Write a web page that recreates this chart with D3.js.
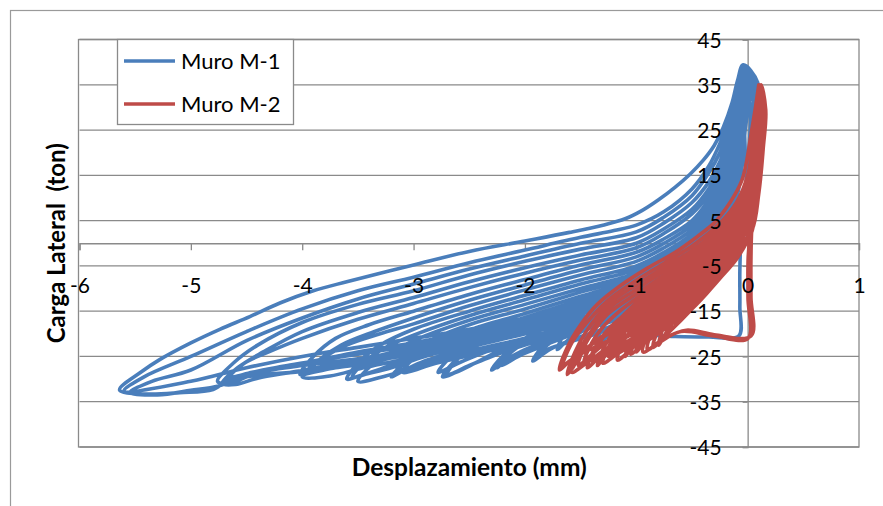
<!DOCTYPE html>
<html>
<head>
<meta charset="utf-8">
<script src="https://cdn.jsdelivr.net/npm/d3@7"></script>
<style>
  html, body { margin: 0; padding: 0; background: #fff; }
  svg { display: block; }
</style>
</head>
<body>
<svg id="chart" width="883" height="506"></svg>
<script>
// Hysteresis loops: lateral displacement (mm) vs lateral load (ton)
const xTicks = [-6, -5, -4, -3, -2, -1, 0, 1];
const yTicks = [-45, -35, -25, -15, -5, 5, 15, 25, 35, 45];
const seriesNames = ["Muro M-1", "Muro M-2"];
const seriesColors = ["#4A7EBB", "#BE4B48"];

// Muro M-1: [displacement, load], cycle after cycle
const muroM1 = [
  [0,0],[-0.01,12],[-0.03,26],[-0.04,35],
  [0.02,31],[0.01,20],[-0.03,8],[-0.06,1],[-0.07,-6],[-0.07,-14],[-0.08,-20.5],[-0.35,-20.7],[-0.65,-20.6],[-0.85,-20.4],[-0.97,-21.2],
  [-0.9,-15],[-0.78,-9.5],[-0.6,-4.8],[-0.4,-1.2],[-0.22,2.5],[-0.11,8.5],[-0.05,19],[-0.02,30],[0.0,35.5],
  [0.05,33],[0.04,24],[0.01,14],[-0.03,5],[-0.1,-1.5],[-0.35,-6],[-0.7,-11],[-1.0,-15.5],[-1.2,-19.5],[-1.35,-22],
  [-1.27,-17],[-1.1,-12],[-0.85,-7.5],[-0.55,-3.5],[-0.3,0.5],[-0.15,5.5],[-0.07,14],[-0.02,26],[0.01,35],
  [0.05,32],[0.03,22],[0.0,12],[-0.04,4],[-0.12,-1.5],[-0.4,-6.5],[-0.8,-11.5],[-1.15,-15.5],[-1.45,-19],[-1.62,-21.5],[-1.71,-23.5],
  [-1.62,-19],[-1.42,-14.5],[-1.15,-10.5],[-0.8,-6.5],[-0.5,-2.5],[-0.28,1.5],[-0.14,6.5],[-0.06,15],[-0.02,26],[0.01,36],
  [0.06,33],[0.04,23],[0.01,12],[-0.04,3],[-0.1,-1.5],[-0.25,-4.5],[-0.5,-9],[-1.0,-16],[-1.3,-19],[-1.6,-21.5],[-1.78,-23.5],[-1.93,-26],
  [-1.83,-22.5],[-1.65,-19.5],[-1.4,-16.5],[-1.0,-13.5],[-0.75,-10.5],[-0.5,-7.6],[-0.35,-4],[-0.25,-0.6],[-0.15,6],[-0.1,12],[-0.05,21],[0.04,33.5],
  [0.06,33],[0.04,24],[0.0,13],[-0.05,3],[-0.1,-2],[-0.25,-5],[-0.5,-9.5],[-1.0,-16.5],[-1.3,-19.5],[-1.62,-22],[-1.8,-23.5],[-1.9,-25.5],
  [-1.8,-22.5],[-1.6,-19.8],[-1.35,-17.2],[-1.0,-14.2],[-0.75,-11.2],[-0.5,-8.3],[-0.35,-4.8],[-0.25,-1.4],[-0.15,5],[-0.1,11],[-0.05,20],[0.04,33],
  [0.07,33.5],[0.05,24],[0.01,13],[-0.04,3],[-0.1,-1.5],[-0.25,-4.5],[-0.5,-9],[-1.0,-15],[-1.4,-18],[-1.8,-21.5],[-2.0,-23.5],[-2.15,-25.5],[-2.25,-27.5],
  [-2.15,-24],[-2.0,-21],[-1.75,-18],[-1.5,-15.6],[-1.0,-11.5],[-0.75,-8.5],[-0.5,-5.6],[-0.35,-1.6],[-0.25,1.8],[-0.15,9],[-0.1,15],[-0.05,24],[0.03,34.5],
  [0.07,33],[0.05,23],[0.01,12],[-0.05,3],[-0.1,-2],[-0.25,-5],[-0.5,-9.5],[-1.0,-15.5],[-1.45,-19],[-1.82,-22.5],[-2.02,-24.5],[-2.22,-27],
  [-2.12,-24],[-1.97,-21.5],[-1.75,-19],[-1.5,-16.5],[-1.0,-12.2],[-0.75,-9.2],[-0.5,-6.3],[-0.35,-2.4],[-0.25,1],[-0.15,8],[-0.1,14],[-0.05,23],[0.04,34.5],
  [0.07,34],[0.05,24],[0.01,13],[-0.04,3],[-0.1,-1.5],[-0.25,-4],[-0.5,-8.5],[-1.0,-14.5],[-1.5,-19],[-1.9,-22.5],[-2.12,-25],[-2.3,-28],
  [-2.2,-25],[-2.05,-22.5],[-1.8,-20],[-1.5,-17.3],[-1.0,-12.9],[-0.75,-9.9],[-0.5,-7],[-0.35,-3.2],[-0.25,0.2],[-0.15,7],[-0.1,13],[-0.05,22],[0.04,34],
  [0.07,34],[0.05,24],[0.01,13],[-0.04,3],[-0.1,-1.5],[-0.25,-4.5],[-0.5,-8.5],[-1.0,-14],[-1.5,-18],[-1.95,-21.5],[-2.25,-24],[-2.45,-26.5],[-2.62,-28.5],[-2.74,-29.5],
  [-2.63,-26],[-2.45,-22.5],[-2.2,-19.5],[-2.0,-17.3],[-1.5,-13.3],[-1.0,-9.4],[-0.75,-6.4],[-0.5,-3.5],[-0.35,0.8],[-0.25,4.2],[-0.15,12],[-0.1,18],[-0.05,26.5],[0.02,35.5],
  [0.07,34],[0.05,24],[0.01,13],[-0.05,3],[-0.1,-2],[-0.25,-5],[-0.5,-9],[-1.0,-15],[-1.5,-19],[-2.0,-22.5],[-2.3,-25],[-2.5,-27],[-2.7,-29],
  [-2.6,-25.5],[-2.42,-22.5],[-2.2,-20.3],[-2.0,-18.2],[-1.5,-14],[-1.0,-10.1],[-0.75,-7.1],[-0.5,-4.2],[-0.35,0],[-0.25,3.4],[-0.15,11],[-0.1,17],[-0.05,25.5],[0.03,35],
  [0.08,34.5],[0.05,24],[0.01,13],[-0.04,3],[-0.1,-1.5],[-0.25,-4],[-0.5,-8],[-1.0,-13.5],[-1.5,-17.5],[-2.0,-21],[-2.35,-24],[-2.6,-26.5],[-2.78,-28.5],
  [-2.68,-25.5],[-2.5,-23],[-2.25,-21],[-2.0,-19],[-1.5,-14.8],[-1.0,-10.8],[-0.75,-7.8],[-0.5,-4.9],[-0.35,-0.8],[-0.25,2.6],[-0.15,10],[-0.1,16],[-0.05,25],[0.03,35],
  [0.08,34.5],[0.05,24],[0.01,13],[-0.04,3],[-0.1,-1.5],[-0.25,-4.5],[-0.5,-8.5],[-1.0,-14],[-1.5,-17.5],[-2.0,-21],[-2.4,-23.5],[-2.75,-26],[-3.0,-27.2],[-3.15,-28],
  [-3.05,-25],[-2.85,-21.5],[-2.5,-18],[-2.0,-14.5],[-1.5,-10.8],[-1.0,-7.3],[-0.75,-4.3],[-0.5,-1],[-0.35,3.5],[-0.25,7],[-0.15,15],[-0.1,21],[-0.05,29],[0.01,36.5],
  [0.08,34],[0.05,24],[0.01,13],[-0.05,3],[-0.1,-2],[-0.25,-5],[-0.5,-9],[-1.0,-15],[-1.5,-18.5],[-2.0,-22],[-2.45,-24.5],[-2.8,-26.5],[-3.1,-28.5],
  [-3.0,-25.5],[-2.8,-22.5],[-2.5,-19.2],[-2.0,-15.5],[-1.5,-11.7],[-1.0,-8],[-0.75,-5],[-0.5,-2],[-0.35,2.5],[-0.25,6],[-0.15,14],[-0.1,20],[-0.05,28],[0.02,36],
  [0.08,35],[0.06,25],[0.02,14],[-0.04,3],[-0.1,-1.5],[-0.25,-4],[-0.5,-8],[-1.0,-13],[-1.5,-16.5],[-2.0,-20],[-2.5,-23],[-2.9,-26],[-3.08,-28],[-3.2,-29.5],
  [-3.08,-26.5],[-2.9,-23.5],[-2.5,-20.3],[-2.0,-16.4],[-1.5,-12.5],[-1.0,-8.7],[-0.75,-5.7],[-0.5,-2.8],[-0.35,1.6],[-0.25,5],[-0.15,13],[-0.1,19],[-0.05,27],[0.02,36],
  [0.08,34.5],[0.05,24],[0.01,13],[-0.04,3],[-0.1,-1.5],[-0.25,-4.5],[-0.5,-8.5],[-1.0,-13],[-1.5,-16.5],[-2.0,-19.5],[-2.5,-22.5],[-2.9,-25],[-3.2,-27.5],[-3.45,-29],[-3.6,-30],
  [-3.48,-26],[-3.3,-22.5],[-3.0,-19],[-2.5,-15],[-2.0,-11.5],[-1.5,-8.1],[-1.0,-5],[-0.75,-2],[-0.5,2],[-0.35,6.2],[-0.25,10],[-0.15,18],[-0.1,24],[-0.05,31.5],[0.0,37.5],
  [0.08,34],[0.05,24],[0.01,13],[-0.05,3],[-0.1,-2],[-0.25,-5],[-0.5,-9],[-1.0,-12],[-1.5,-15.5],[-2.0,-18.8],[-2.5,-21.8],[-2.95,-24.5],[-3.3,-27.8],[-3.55,-29.5],
  [-3.43,-26],[-3.25,-23],[-3.0,-20.3],[-2.5,-16],[-2.0,-12.5],[-1.5,-9],[-1.0,-5.8],[-0.75,-2.8],[-0.5,1],[-0.35,5.3],[-0.25,9],[-0.15,17],[-0.1,23],[-0.05,31],[0.01,37.5],
  [0.08,35],[0.06,25],[0.02,14],[-0.04,3],[-0.1,-1.5],[-0.25,-4],[-0.5,-8],[-1.0,-14.5],[-1.5,-18],[-2.0,-21],[-2.5,-23.8],[-2.9,-26.5],[-3.25,-29.3],[-3.5,-30.5],
  [-3.38,-27],[-3.2,-24],[-3.0,-21.5],[-2.5,-17],[-2.0,-13.5],[-1.5,-10],[-1.0,-6.6],[-0.75,-3.6],[-0.5,0],[-0.35,4.4],[-0.25,8],[-0.15,16],[-0.1,22],[-0.05,30],[0.01,37],
  [0.08,34.5],[0.05,24],[0.01,13],[-0.04,3],[-0.1,-1.5],[-0.25,-4.5],[-0.5,-8.5],[-1.0,-12.5],[-1.5,-15.5],[-2.0,-18.5],[-2.5,-21.5],[-3.0,-24],[-3.4,-26.5],[-3.7,-27.5],[-3.9,-28.5],[-4.02,-29],
  [-3.9,-25],[-3.7,-21],[-3.4,-18],[-3.0,-15],[-2.5,-11.3],[-2.0,-8],[-1.5,-4.8],[-1.0,-2],[-0.75,1],[-0.5,5],[-0.35,9.5],[-0.25,13.5],[-0.15,21.5],[-0.1,27],[-0.05,33.5],[0.0,37.5],
  [0.08,34.5],[0.05,24],[0.01,13],[-0.05,3],[-0.1,-2],[-0.25,-5],[-0.5,-9],[-1.0,-14],[-1.5,-17],[-2.0,-20],[-2.5,-22.8],[-3.0,-25.2],[-3.45,-27.5],[-3.75,-29.3],[-4.0,-29.5],
  [-3.86,-26],[-3.65,-22.5],[-3.35,-19.5],[-3.0,-16.5],[-2.5,-12.6],[-2.0,-9.2],[-1.5,-5.9],[-1.0,-3],[-0.75,0],[-0.5,4],[-0.35,8.3],[-0.25,12],[-0.15,20],[-0.1,26],[-0.05,33],[0.0,37],
  [0.08,35],[0.06,25],[0.02,14],[-0.04,3],[-0.1,-1.5],[-0.25,-4],[-0.5,-8],[-1.0,-11.5],[-1.5,-14.8],[-2.0,-17.8],[-2.5,-20.5],[-3.0,-23],[-3.4,-25.3],[-3.7,-27],[-3.95,-28.5],
  [-3.82,-25.5],[-3.6,-22.5],[-3.3,-20],[-3.0,-17.8],[-2.5,-13.8],[-2.0,-10.3],[-1.5,-7],[-1.0,-4],[-0.75,-1],[-0.5,3],[-0.35,7.2],[-0.25,11],[-0.15,19],[-0.1,25],[-0.05,32],[0.0,37],
  [0.08,35],[0.06,26],[0.02,14],[-0.04,3],[-0.1,-1.5],[-0.25,-4.5],[-0.5,-8.5],[-1.0,-12],[-1.5,-15],[-2.0,-17.5],[-2.5,-20],[-3.0,-22.5],[-3.5,-24.5],[-4.0,-26.5],[-4.3,-28],[-4.5,-29.5],[-4.65,-31],[-4.76,-30.5],
  [-4.62,-26.5],[-4.4,-22.5],[-4.0,-17.5],[-3.5,-13.5],[-3.0,-10.5],[-2.5,-7],[-2.0,-4],[-1.5,-1.3],[-1.0,1.2],[-0.75,4.5],[-0.5,9],[-0.35,13.5],[-0.25,18],[-0.15,25],[-0.1,30],[-0.05,36],[-0.01,38.5],
  [0.08,35],[0.06,26],[0.02,14],[-0.05,3],[-0.1,-2],[-0.25,-5],[-0.5,-9],[-1.0,-13.5],[-1.5,-16.5],[-2.0,-19],[-2.5,-21.5],[-3.0,-23.8],[-3.5,-25.8],[-4.05,-28.3],[-4.4,-29.8],[-4.6,-31.2],[-4.72,-31],
  [-4.58,-27.5],[-4.35,-24],[-4.0,-19.5],[-3.5,-15.3],[-3.0,-12],[-2.5,-8.5],[-2.0,-5.4],[-1.5,-2.6],[-1.0,0],[-0.75,3.2],[-0.5,7.5],[-0.35,12],[-0.25,16.5],[-0.15,24],[-0.1,29],[-0.05,35],[0.0,38],
  [0.08,34.5],[0.05,25],[0.01,13],[-0.04,3],[-0.1,-1.5],[-0.25,-4],[-0.5,-8],[-1.0,-11],[-1.5,-14],[-2.0,-16.8],[-2.5,-19.6],[-3.0,-22],[-3.5,-24],[-3.9,-26],[-4.2,-27.3],[-4.45,-28.5],[-4.65,-29.5],
  [-4.52,-26.5],[-4.3,-24],[-4.0,-21],[-3.5,-16.8],[-3.0,-13.3],[-2.5,-9.8],[-2.0,-6.6],[-1.5,-3.7],[-1.0,-1],[-0.75,2.2],[-0.5,6.5],[-0.35,10.8],[-0.25,15],[-0.15,23],[-0.1,28],[-0.05,34],[0.0,37.5],
  [0.09,35.5],[0.06,26],[0.02,14],[-0.04,3],[-0.1,-1.5],[-0.25,-4.5],[-0.5,-8.5],[-1.0,-13],[-1.5,-15.5],[-2.0,-18],[-2.5,-21],[-3.0,-23.5],[-3.5,-25.5],[-4.0,-27],[-4.4,-28.5],[-4.65,-30],[-4.8,-32.3],[-5.1,-33],[-5.4,-33.3],[-5.64,-32.4],
  [-5.45,-28.5],[-5.28,-25.7],[-5.0,-22],[-4.74,-19],[-4.47,-16.2],[-4.2,-13.2],[-3.9,-10.5],[-3.6,-8.5],[-3.3,-6.6],[-3.0,-4.8],[-2.5,-1.8],[-2.0,0.5],[-1.6,2.4],[-1.3,4.0],[-1.1,5.4],[-0.95,7.2],[-0.8,9.6],[-0.65,12.4],[-0.52,15.2],[-0.4,18.3],[-0.3,21.6],[-0.22,25.5],[-0.14,31],[-0.09,36],[-0.04,39.4],
  [0.09,35.5],[0.06,26],[0.02,14],[-0.05,3],[-0.1,-2],[-0.25,-5],[-0.5,-9],[-1.0,-11.5],[-1.5,-14],[-2.0,-16.5],[-2.5,-19],[-3.0,-21],[-3.5,-23],[-4.0,-25],[-4.5,-27.5],[-5.0,-30.5],[-5.6,-32.6],
  [-5.42,-29.5],[-5.0,-25],[-4.5,-19.5],[-4.0,-14.5],[-3.5,-10.5],[-3.0,-7.5],[-2.5,-4.3],[-2.0,-1.5],[-1.5,1.3],[-1.2,2.8],[-1.0,4.0],[-0.75,7],[-0.5,12],[-0.35,17],[-0.25,22],[-0.15,28.5],[-0.1,33],[-0.05,37.5],[-0.02,38.8],
  [0.09,35],[0.06,25],[0.02,14],[-0.04,3],[-0.1,-1.5],[-0.25,-4],[-0.5,-8],[-1.0,-14],[-1.5,-17],[-2.0,-19.5],[-2.5,-22],[-3.0,-24.5],[-3.5,-26.5],[-4.0,-28.3],[-4.5,-29.5],[-4.75,-31.5],[-5.0,-32.5],[-5.3,-33.5],[-5.55,-33],
  [-5.35,-30.5],[-5.0,-28],[-4.5,-21.5],[-4.0,-16.5],[-3.5,-12.3],[-3.0,-9],[-2.5,-5.7],[-2.0,-2.8],[-1.5,0],[-1.0,2.5],[-0.75,5.8],[-0.5,10.5],[-0.35,15.5],[-0.25,20],[-0.15,27],[-0.1,31],[-0.05,36.5],[-0.01,38.5]
];

// Muro M-2: [displacement, load], cycle after cycle
const muroM2 = [
  [0,0],[0.03,10],[0.07,22],[0.1,31],[0.12,35],
  [0.14,30],[0.12,20],[0.07,10],[0.03,4],[0.005,-3],[0.003,-12],[0.003,-21],[-0.3,-20.5],[-0.6,-19.5],[-0.8,-22],[-0.94,-24],
  [-0.88,-19],[-0.78,-15.5],[-0.65,-12.5],[-0.5,-9.5],[-0.25,-4],[-0.1,0],[0.0,5],[0.05,13],[0.09,24],[0.12,34],
  [0.15,30],[0.13,20],[0.08,10],[0.04,4],[0.03,-3],[0.03,-12],[0.03,-20.5],[-0.3,-20.2],[-0.55,-19.2],[-0.75,-21],[-0.9,-23.5],
  [-0.84,-18.5],[-0.72,-15],[-0.58,-12],[-0.45,-9],[-0.25,-4.5],[-0.1,-0.5],[0.0,4.5],[0.05,12.5],[0.09,24],[0.12,34.5],
  [0.15,30],[0.13,21],[0.09,11],[0.04,3],[-0.1,-2.5],[-0.25,-6.5],[-0.5,-13],[-0.7,-18.5],[-0.8,-22.5],
  [-0.74,-17.5],[-0.62,-13],[-0.45,-9],[-0.25,-5],[-0.1,-1],[0.0,3.5],[0.05,12],[0.09,23],[0.11,32],
  [0.15,30],[0.13,20],[0.08,9],[0.03,2],[-0.1,-3],[-0.25,-7.8],[-0.5,-14.5],[-0.7,-19.5],[-0.85,-23],
  [-0.8,-19],[-0.7,-15.5],[-0.55,-12],[-0.4,-8.5],[-0.25,-5.3],[-0.1,-1.5],[0.0,4],[0.05,12.5],[0.09,23.5],[0.11,32.5],
  [0.15,30],[0.14,21],[0.1,12],[0.04,3],[-0.1,-2.5],[-0.25,-6.5],[-0.5,-12.5],[-0.75,-17.5],[-0.9,-21],[-1.0,-24],
  [-0.94,-20],[-0.85,-17.5],[-0.7,-14.5],[-0.5,-10.5],[-0.25,-4.8],[-0.1,-1],[0.0,4.5],[0.05,13],[0.09,24],[0.11,32.5],
  [0.12,30],[0.1,20],[0.06,9],[0.02,2],[-0.1,-3.5],[-0.25,-7.8],[-0.5,-14.5],[-0.75,-19],[-0.95,-22.5],[-1.05,-24.5],
  [-0.98,-20],[-0.88,-17],[-0.75,-14.8],[-0.5,-10.4],[-0.25,-4.8],[-0.1,-0.5],[0.0,5],[0.05,13.5],[0.09,24.5],[0.11,33],
  [0.16,30],[0.14,21],[0.1,11],[0.04,3],[-0.1,-2],[-0.25,-5.5],[-0.5,-11],[-0.75,-15.5],[-1.0,-21.5],[-1.1,-25],
  [-1.04,-21],[-0.95,-18.2],[-0.75,-14.2],[-0.5,-9.8],[-0.25,-4.3],[-0.1,0],[0.0,5.5],[0.05,14],[0.09,25],[0.11,33],
  [0.15,30],[0.13,21],[0.09,10],[0.03,2],[-0.1,-3],[-0.25,-7],[-0.5,-13.5],[-0.75,-18],[-1.0,-22.5],[-1.17,-25.8],
  [-1.1,-21],[-1.0,-18],[-0.88,-16],[-0.75,-13.5],[-0.5,-9.2],[-0.25,-3.8],[-0.1,0.5],[0.03,6],[0.09,14.5],[0.13,25.5],[0.14,33],
  [0.15,30],[0.13,20],[0.08,9],[0.03,2],[-0.1,-2.5],[-0.25,-6],[-0.5,-11.5],[-0.75,-16],[-1.0,-20.5],[-1.1,-23],[-1.2,-24.5],
  [-1.13,-20.5],[-1.04,-18],[-0.9,-15.5],[-0.75,-12.8],[-0.5,-8.6],[-0.25,-3.3],[-0.1,1],[0.0,6.5],[0.05,15],[0.09,26],[0.11,33.5],
  [0.16,30],[0.14,21],[0.1,12],[0.04,3],[-0.1,-3.5],[-0.25,-7.5],[-0.5,-14],[-0.75,-18.5],[-1.0,-22],[-1.25,-25],
  [-1.18,-21],[-1.08,-18.2],[-1.0,-16.3],[-0.75,-12],[-0.5,-8],[-0.25,-2.8],[-0.1,1.6],[0.03,7],[0.08,15.5],[0.12,26.5],[0.13,33.5],
  [0.15,30],[0.13,20],[0.08,9],[0.03,2],[-0.1,-3],[-0.25,-6.5],[-0.5,-12.5],[-0.75,-17],[-1.0,-21.5],[-1.15,-24],[-1.3,-26.5],
  [-1.23,-22],[-1.12,-18.5],[-1.0,-15.6],[-0.75,-11.3],[-0.5,-7.3],[-0.25,-2.2],[-0.1,2.2],[0.02,7.5],[0.07,16],[0.11,27],[0.13,34],
  [0.13,30],[0.11,21],[0.08,11],[0.03,3],[-0.1,-2],[-0.25,-5],[-0.5,-10],[-0.75,-14.5],[-1.0,-19],[-1.25,-24],[-1.35,-27],
  [-1.28,-22.5],[-1.18,-19],[-1.0,-14.8],[-0.75,-10.5],[-0.5,-6.6],[-0.25,-1.5],[-0.1,2.8],[0.0,8],[0.05,16.5],[0.09,27.5],[0.11,34],
  [0.12,30],[0.1,21],[0.07,11],[0.02,3],[-0.1,-3.5],[-0.25,-7],[-0.5,-13],[-0.75,-17.5],[-1.0,-21],[-1.25,-24.5],[-1.4,-26],
  [-1.33,-22],[-1.22,-18.5],[-1.1,-16],[-1.0,-14],[-0.75,-9.7],[-0.5,-5.8],[-0.25,-0.8],[-0.1,3.5],[0.0,8.5],[0.05,17],[0.09,28],[0.11,34],
  [0.15,30],[0.14,21],[0.1,12],[0.04,3],[-0.1,-2.5],[-0.25,-5.5],[-0.5,-10.5],[-0.75,-15],[-1.0,-19],[-1.25,-23],[-1.35,-25.5],[-1.44,-27.5],
  [-1.37,-23],[-1.27,-19.5],[-1.12,-16],[-1.0,-13.2],[-0.75,-8.9],[-0.5,-5],[-0.25,0],[-0.1,4.2],[0.02,9.5],[0.07,18],[0.11,28.5],[0.13,34],
  [0.16,30],[0.14,21],[0.1,11],[0.04,3],[-0.1,-3],[-0.25,-6.5],[-0.5,-12],[-0.75,-16.5],[-1.0,-20.5],[-1.25,-24],[-1.4,-25.5],[-1.47,-26.5],
  [-1.4,-22],[-1.3,-18.5],[-1.15,-15],[-1.0,-12.2],[-0.75,-8],[-0.5,-4.2],[-0.25,0.8],[-0.1,5],[0.0,10.5],[0.05,19],[0.09,29],[0.12,34.5],
  [0.13,30],[0.11,20],[0.07,9],[0.02,2],[-0.1,-2],[-0.25,-4.5],[-0.5,-9],[-0.75,-13.5],[-1.0,-17.5],[-1.25,-21.5],[-1.42,-25],[-1.52,-27],
  [-1.46,-22.5],[-1.37,-19],[-1.25,-15.5],[-1.0,-11.2],[-0.75,-7.1],[-0.5,-3.4],[-0.25,1.6],[-0.1,6],[0.0,11.5],[0.05,20],[0.09,30],[0.12,35],
  [0.16,30],[0.14,21],[0.1,11],[0.04,3],[-0.1,-3],[-0.25,-6],[-0.5,-11],[-0.75,-15.5],[-1.0,-19.5],[-1.25,-23],[-1.45,-26.5],[-1.58,-28.5],
  [-1.52,-24],[-1.42,-20],[-1.25,-14.5],[-1.0,-10.2],[-0.75,-6.2],[-0.5,-2.5],[-0.25,2.5],[-0.1,7],[0.0,12.5],[0.05,21],[0.09,31],[0.12,35],
  [0.16,30],[0.14,21],[0.1,11],[0.04,3],[-0.1,-1.5],[-0.25,-3.5],[-0.5,-7.5],[-0.75,-12],[-1.0,-15.5],[-1.25,-19.5],[-1.5,-24.5],[-1.57,-27.5],[-1.62,-29],
  [-1.55,-24],[-1.45,-19.5],[-1.25,-13.5],[-1.0,-9.2],[-0.75,-5.3],[-0.5,-1.6],[-0.25,3.5],[-0.1,8],[0.0,13.5],[0.05,22],[0.09,31],[0.11,34.5],
  [0.15,30],[0.13,20],[0.08,9],[0.03,2],[-0.1,-2.5],[-0.25,-5],[-0.5,-9.5],[-0.75,-14],[-1.0,-18],[-1.25,-21.5],[-1.5,-24.5],[-1.6,-26],[-1.66,-27],
  [-1.59,-22.5],[-1.5,-19.2],[-1.25,-12.5],[-1.0,-8.2],[-0.75,-4.4],[-0.5,-0.6],[-0.25,4.4],[-0.1,9],[0.0,15],[0.05,23],[0.1,33],[0.12,35],
  [0.16,30],[0.14,21],[0.1,11],[0.04,3],[-0.1,-2],[-0.25,-4],[-0.5,-8],[-0.75,-12.5],[-1.0,-16],[-1.25,-20],[-1.5,-24],[-1.62,-26.5],[-1.69,-28],
  [-1.62,-23],[-1.5,-18],[-1.35,-13.5],[-1.15,-9.5],[-0.9,-5.5],[-0.65,-2],[-0.45,1.5],[-0.3,4.5],[-0.2,7.5],[-0.12,10.5],[-0.05,14],[-0.01,18],[0.03,24],[0.07,30],[0.1,35]
];

const allSeries = [muroM1, muroM2];

const W = 883, H = 506;
const svg = d3.select("#chart");
const FONT = "Lato, 'Open Sans', 'DejaVu Sans', sans-serif";
const GRID = "#8a8a8a";

const x = d3.scaleLinear().domain([-6, 1]).range([79.5, 859]);
const y = d3.scaleLinear().domain([-45, 45]).range([447, 39.5]);

svg.append("rect").attr("width", W).attr("height", H).attr("fill", "#fff");

// chart frame
svg.append("rect")
  .attr("x", 10.5).attr("y", 10.5).attr("width", W).attr("height", H)
  .attr("fill", "none").attr("stroke", "#9a9a9a").attr("stroke-width", 1.2);

// horizontal gridlines
svg.append("g").selectAll("line").data(yTicks).join("line")
  .attr("x1", x(-6)).attr("x2", x(1))
  .attr("y1", d => y(d)).attr("y2", d => y(d))
  .attr("stroke", GRID).attr("stroke-width", 1.3);

// plot area border
svg.append("rect")
  .attr("x", x(-6) - 1).attr("y", y(45)).attr("width", x(1) - x(-6) + 1).attr("height", y(-45) - y(45))
  .attr("fill", "none").attr("stroke", GRID).attr("stroke-width", 1.3);

// axis lines crossing at the origin
const xAxisLine = svg.append("g")
  .attr("transform", `translate(0,${y(0)})`)
  .call(d3.axisBottom(x).tickValues(xTicks).tickSize(7).tickFormat(""));
const yAxisLine = svg.append("g")
  .attr("transform", `translate(${x(0)},0)`)
  .call(d3.axisLeft(y).tickValues(yTicks).tickSize(5).tickFormat(""));
[xAxisLine, yAxisLine].forEach(g => {
  g.selectAll("path, line").attr("stroke", GRID).attr("stroke-width", 1.3);
});

// data loops
const line = d3.line()
  .x(d => x(d[0])).y(d => y(d[1]))
  .curve(d3.curveCatmullRom.alpha(0.5));

svg.append("g").selectAll("path").data(allSeries).join("path")
  .attr("d", line)
  .attr("fill", "none")
  .attr("stroke", (d, i) => seriesColors[i])
  .attr("stroke-width", 3.6)
  .attr("stroke-linejoin", "round")
  .attr("stroke-linecap", "round");

// tick labels, drawn over the data
const tickText = d => String(d);
const xLabels = svg.append("g")
  .attr("transform", `translate(0,${y(0)})`)
  .call(d3.axisBottom(x).tickValues(xTicks).tickSize(0).tickPadding(35).tickFormat(tickText));
const yLabels = svg.append("g")
  .attr("transform", `translate(${x(0)},0)`)
  .call(d3.axisLeft(y).tickValues(yTicks).tickSize(0).tickPadding(26).tickFormat(tickText));
[xLabels, yLabels].forEach(g => {
  g.select(".domain").remove();
  g.selectAll("text")
    .attr("font-family", FONT).attr("font-size", 21)
    .attr("fill", "#000");
});
yLabels.selectAll("text").attr("dy", "0.36em");

// axis titles, sized to their span
function fitWidth(sel, target) {
  const w = sel.node().getComputedTextLength();
  const fs = parseFloat(sel.attr("font-size"));
  sel.attr("font-size", (fs * target / w).toFixed(2));
}
const xTitle = svg.append("text")
  .attr("x", (x(-6) + x(1)) / 2).attr("y", 476)
  .attr("text-anchor", "middle")
  .attr("font-family", FONT).attr("font-weight", 700).attr("font-size", 20)
  .text("Desplazamiento (mm)");
fitWidth(xTitle, 235);

const yTitle = svg.append("text")
  .attr("transform", `translate(65,${(y(45) + y(-45)) / 2}) rotate(-90)`)
  .attr("text-anchor", "middle")
  .attr("font-family", FONT).attr("font-weight", 700).attr("font-size", 20)
  .style("white-space", "pre")
  .text("Carga Lateral  (ton)");
fitWidth(yTitle, 200);

// legend
const legend = svg.append("g");
legend.append("rect")
  .attr("x", 117.5).attr("y", y(45)).attr("width", 176).attr("height", 85)
  .attr("fill", "#fff").attr("stroke", GRID).attr("stroke-width", 1.3);
const items = legend.selectAll("g.item").data(seriesNames).join("g")
  .attr("class", "item")
  .attr("transform", (d, i) => `translate(0,${61 + i * 43})`);
items.append("line")
  .attr("x1", 124).attr("x2", 175).attr("y1", 0).attr("y2", 0)
  .attr("stroke", (d, i) => seriesColors[i]).attr("stroke-width", 3.5);
items.append("text")
  .attr("x", 181).attr("y", 8)
  .attr("font-family", FONT).attr("font-size", 22)
  .attr("fill", "#000")
  .text(d => d);
</script>
</body>
</html>
